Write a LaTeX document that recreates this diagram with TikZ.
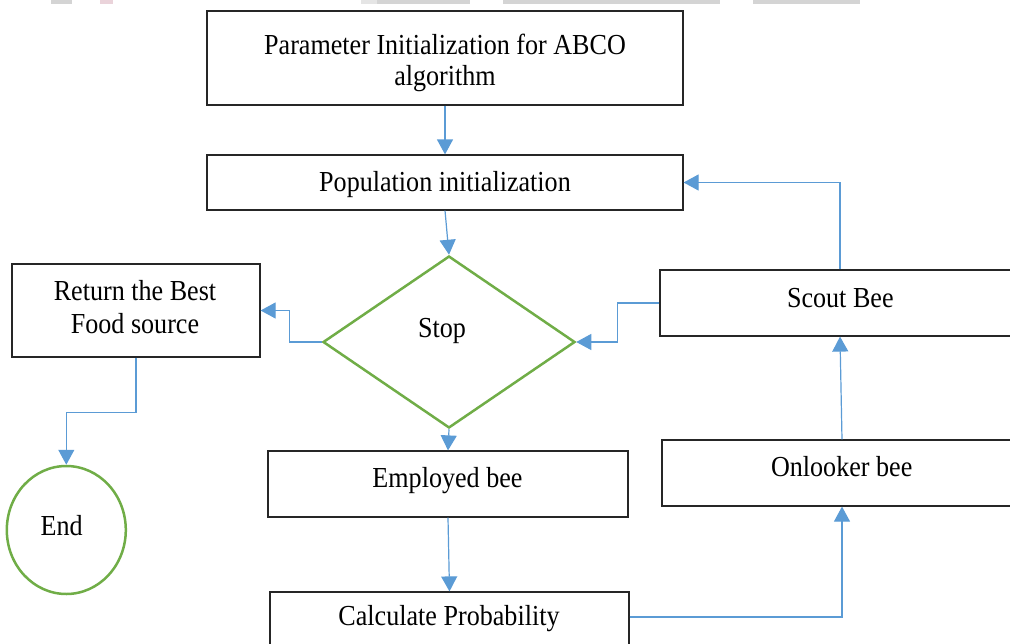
\documentclass[tikz,border=0pt]{standalone}
\usepackage{fontspec}
\setmainfont[FakeStretch=0.9]{Liberation Serif}
\usetikzlibrary{arrows.meta,shapes.geometric}
\definecolor{conblue}{HTML}{5B9BD5}
\definecolor{shpgreen}{HTML}{70AD47}
\definecolor{hdrgray}{HTML}{D4D4D4}
\definecolor{hdrpink}{HTML}{EAD3DA}
\tikzset{
  box/.style={draw=black!85, line width=1.2pt, inner sep=0pt},
  greenshape/.style={draw=shpgreen, line width=2.5pt, inner sep=0pt},
  txt/.style={font=\fontsize{29}{34}\selectfont, anchor=base, inner sep=0pt},
  conn/.style={draw=conblue, line width=1.2pt, -{Triangle[width=16pt,length=15pt]}}
}
\begin{document}
\begin{tikzpicture}[x=1pt,y=-1pt]
\clip (0,0) rectangle (1010,643);
\useasboundingbox (0,0) rectangle (1010,643);
% header remnants
\fill[hdrgray] (51,0) rectangle (72,4);
\fill[hdrpink] (100,0) rectangle (113,4);
\fill[hdrgray!60] (361,0) rectangle (377,4);
\fill[hdrgray] (377,0) rectangle (470,4);
\fill[hdrgray] (503,0) rectangle (720,4);
\fill[hdrgray] (753,0) rectangle (860,4);
% shapes
\node[box, minimum width=476pt, minimum height=94pt] (param) at (445,58) {};
\node[box, minimum width=476pt, minimum height=55pt] (pop) at (445,182.5) {};
\node[greenshape, diamond, minimum width=252pt, minimum height=172pt] (stop) at (449,342) {};
\node[box, minimum width=248pt, minimum height=93pt] (ret) at (136,310.5) {};
\node[greenshape, ellipse, minimum width=119pt, minimum height=128pt] (end) at (66.3,530) {};
\node[box, minimum width=360pt, minimum height=66pt] (emp) at (448,484) {};
\node[box, minimum width=359pt, minimum height=58pt] (calc) at (449.5,621) {};
\node[box, minimum width=360pt, minimum height=66pt] (scout) at (840,303) {};
\node[box, minimum width=360pt, minimum height=66pt] (onl) at (842,473) {};
% texts
\node[txt] (paramA) at (445,54) {Parameter Initialization for ABCO};
\node[txt] (paramB) at (445,85) {algorithm};
\node[txt] (popT) at (445,191) {Population initialization};
\node[txt] (stopT) at (442,337) {Stop};
\node[txt] (retA) at (135,300) {Return the Best};
\node[txt] (retB) at (135,333) {Food source};
\node[txt] (endT) at (61.7,535) {End};
\node[txt] (empT) at (447.5,487) {Employed bee};
\node[txt] (calcT) at (449,625) {Calculate Probability};
\node[txt] (scoutT) at (840.3,307) {Scout Bee};
\node[txt] (onlT) at (841.7,476) {Onlooker bee};
% connectors
\draw[conn] (param.south) -- (pop.north);
\draw[conn] (pop.south) -- (stop.north);
\draw[conn] (stop.west) -- ++(-32,0) |- (ret.east);
\draw[conn] (ret.south) -- ++(0,55) -| (end.north);
\draw[conn] (stop.south) -- (emp.north);
\draw[conn] (emp.south) -- (calc.north);
\draw[conn] ([yshift=4pt]calc.east) -| (onl.south);
\draw[conn] (onl.north) -- (scout.south);
\draw[conn] (scout.north) |- (pop.east);
\draw[conn] (scout.west) -- ++(-42,0) |- (stop.east);
\end{tikzpicture}
\end{document}
